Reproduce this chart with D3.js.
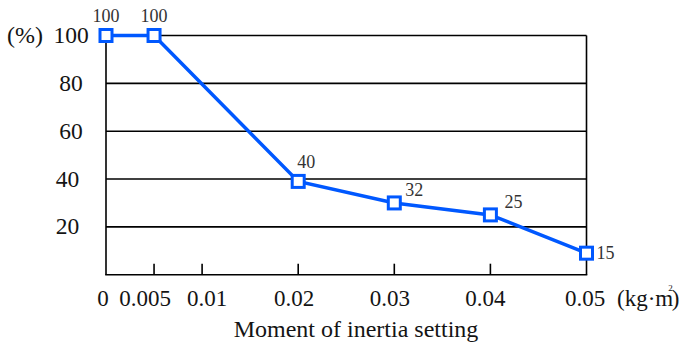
<!DOCTYPE html>
<html><head><meta charset="utf-8">
<script src="https://cdn.jsdelivr.net/npm/d3@7"></script>
<style>html,body{margin:0;padding:0;background:#fff;overflow:hidden}svg{display:block}</style>
</head><body>
<svg id="c" width="692" height="347" font-family="'Liberation Serif', 'Times New Roman', Times, serif"></svg>
<script>
const xValues = [0, 0.005, 0.02, 0.03, 0.04, 0.05];
const yValues = [100, 100, 39, 30, 25, 9];
const pointLabels = ["100", "100", "40", "32", "25", "15"];
const xTicks = [0, 0.005, 0.01, 0.02, 0.03, 0.04, 0.05];
const xTickLabels = ["0", "0.005", "0.01", "0.02", "0.03", "0.04", "0.05"];
const yTicks = [20, 40, 60, 80, 100];

const svg = d3.select("#c");
const x = d3.scaleLinear().domain([0, 0.05]).range([106, 586.5]);
const y = d3.scaleLinear().domain([0, 100]).range([274.7, 35.5]);
const blue = "#0058ff";
const ink = "#141414";

svg.append("g").selectAll("line").data(yTicks).join("line")
  .attr("x1", x(0)).attr("x2", x(0.05))
  .attr("y1", d => y(d)).attr("y2", d => y(d))
  .attr("stroke", "#000").attr("stroke-width", 1.6);
svg.append("line").attr("x1", x(0)).attr("x2", x(0)).attr("y1", y(100)).attr("y2", y(0)).attr("stroke", "#000").attr("stroke-width", 1.6);
svg.append("line").attr("x1", x(0.05)).attr("x2", x(0.05)).attr("y1", y(100)).attr("y2", y(0)).attr("stroke", "#000").attr("stroke-width", 1.6);
svg.append("line").attr("x1", x(0) - 0.8).attr("x2", x(0.05) + 0.8).attr("y1", y(0)).attr("y2", y(0)).attr("stroke", "#000").attr("stroke-width", 1.6);

svg.append("g").selectAll("line").data(xTicks.filter(d => d > 0 && d < 0.05)).join("line")
  .attr("x1", d => x(d)).attr("x2", d => x(d))
  .attr("y1", y(0)).attr("y2", y(0) - 11)
  .attr("stroke", "#000").attr("stroke-width", 1.6);

const xLabelNudge = [-3, -9, 5, -4, -4.5, -5, -1.5];
svg.append("g").selectAll("text").data(xTicks).join("text")
  .attr("x", (d, i) => x(d) + xLabelNudge[i]).attr("y", 306)
  .attr("text-anchor", "middle").attr("font-size", 23).attr("fill", ink)
  .text((d, i) => xTickLabels[i]);

svg.append("g").selectAll("text").data(yTicks).join("text")
  .attr("x", d => d >= 60 ? 71 : 67.5).attr("y", d => y(d) + 7.5)
  .attr("text-anchor", "middle").attr("font-size", 23.5).attr("fill", ink)
  .text(d => d);

svg.append("text").attr("x", 7).attr("y", y(100) + 7.5).attr("font-size", 24).attr("fill", ink).text("(%)");

// unit: one text element, superscript drawn as a raised tspan
const u = svg.append("text").attr("x", 617).attr("y", 306).attr("font-size", 23).attr("fill", ink);
u.append("tspan").text("(kg·m");
u.append("tspan").attr("font-size", 9).attr("dy", -15).attr("dx", -5).text("2");
u.append("tspan").attr("dy", 15).attr("dx", -1).text(")");

svg.append("text").attr("x", 356).attr("y", 336.5).attr("text-anchor", "middle")
  .attr("font-size", 24).attr("fill", ink).text("Moment of inertia setting");

const pts = xValues.map((d, i) => [d, yValues[i]]);
svg.append("path").datum(pts)
  .attr("d", d3.line().x(d => x(d[0])).y(d => y(d[1])))
  .attr("fill", "none").attr("stroke", blue).attr("stroke-width", 3.5);

svg.append("g").selectAll("rect").data(pts).join("rect")
  .attr("x", d => x(d[0]) - 6).attr("y", d => y(d[1]) - 6)
  .attr("width", 12).attr("height", 12)
  .attr("fill", "#fff").attr("stroke", blue).attr("stroke-width", 3);

const lblOff = [[0, -14, "middle"], [0, -14, "middle"], [8, -13, "middle"], [11, -7, "start"], [14, -7, "start"], [10, 6, "start"]];
svg.append("g").selectAll("text").data(pts).join("text")
  .attr("x", (d, i) => x(d[0]) + lblOff[i][0])
  .attr("y", (d, i) => y(d[1]) + lblOff[i][1])
  .attr("text-anchor", (d, i) => lblOff[i][2])
  .attr("font-size", 18).attr("fill", "#333")
  .text((d, i) => pointLabels[i]);
</script>
</body></html>
